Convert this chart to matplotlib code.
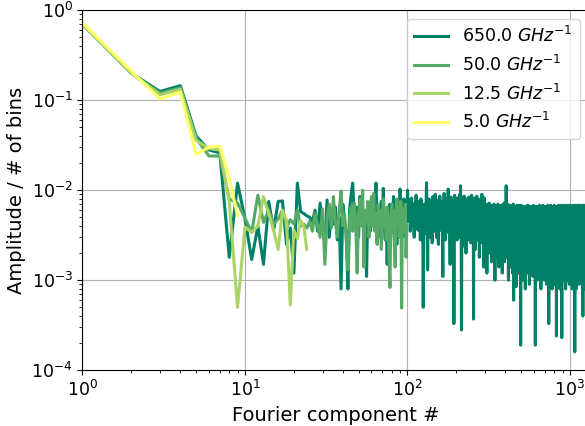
import numpy as np
import matplotlib
matplotlib.use("Agg")
import matplotlib.pyplot as plt

# bin widths shown in the legend (GHz^-1)
widths = [650.0, 50.0, 12.5, 5.0]

# amplitude per component for the shortest windows
amp_5 = [0.72, 0.21, 0.103, 0.123, 0.025, 0.030, 0.031, 0.0135, 0.0052]

amp_12 = [0.70, 0.20, 0.115, 0.132, 0.036, 0.029, 0.028, 0.0075, 0.0005, 0.0039,
          0.0034, 0.0040, 0.0085, 0.0055, 0.0036, 0.0022, 0.0060, 0.0046, 0.00053,
          0.0036, 0.0029, 0.0046, 0.0040, 0.0022]

# components 1-24 as real values, the rest in units of 1e-4
amp_50_head = [0.70, 0.20, 0.12, 0.138, 0.038, 0.024, 0.024, 0.0080, 0.0072, 0.0049,
               0.0034, 0.0088, 0.0044, 0.0060, 0.0042, 0.0048, 0.0060, 0.0038, 0.0047,
               0.0042, 0.0060, 0.0040, 0.0042, 0.0038]
amp_50_tail = [45, 35, 55, 40, 30, 62, 15, 50, 70, 38, 85, 45, 30, 60, 98, 40, 55, 28, 13,
               50, 65, 35, 72, 45, 12, 55, 80, 40, 100, 14, 60, 45, 75, 30, 50, 85, 40, 92,
               35, 55, 25, 70, 45, 60, 22, 50, 80, 38, 55, 28, 65, 42, 18, 8.3, 50, 70, 35,
               60, 25, 14, 55, 80, 40, 65, 30, 50, 75, 4.9, 45, 62, 35, 55, 70, 18, 40]

amp_650_head = [0.70, 0.20, 0.125, 0.145, 0.040, 0.028, 0.026, 0.0018, 0.012, 0.0048,
                0.0017, 0.0040, 0.0015, 0.0075, 0.0036, 0.0075, 0.0076, 0.0025, 0.0038,
                0.0012, 0.012, 0.0058, 0.0055, 0.0052, 0.0050]
amp_650_tail = [
    45, 60, 35, 72, 40, 25, 78, 30, 55, 42, 65, 28, 50, 8, 70, 45, 33, 8, 60, 90, 120, 55,
    40, 65, 30, 85, 45, 62, 28, 50, 11, 70, 48, 35, 80, 55, 40, 72, 120, 45, 30, 60, 38,
    75, 50, 105, 40, 28, 55, 15, 62, 45, 70, 33, 58, 42, 85, 30, 50, 65, 25, 72, 48, 38,
    103, 55, 42, 68, 30, 80, 52, 35, 60, 45,
    100, 62, 45, 78, 35, 58, 82, 40, 66, 50, 30, 72, 55, 88, 42, 60, 36, 75, 48, 64, 28, 80, 52, 44, 70,
    5, 58, 40, 70, 33, 62, 121, 48, 13, 66, 38, 80, 52, 30, 72, 45, 60, 26, 85, 50, 68, 35, 55, 90, 42,
    64, 30, 78, 47, 58, 25, 70, 40, 86, 52, 36, 62, 45, 74, 33, 11, 68, 50, 92, 38, 56, 28, 80, 46, 60,
    34, 72, 48, 103, 55, 40, 66, 30, 15, 58, 84, 44, 62, 26, 76, 50, 36, 70, 3.3, 54, 88, 42, 60, 32, 74,
    46, 64, 28, 82, 52, 38, 70, 44, 58, 30, 90, 48, 112, 66, 40, 2.8, 60, 34, 78, 50, 24, 68, 42, 86, 55,
    36, 72, 48, 62, 20, 80, 45, 58, 32, 75, 52, 40, 66, 28, 84, 46, 60, 35, 70, 50, 26, 64, 42, 88, 38,
    56, 30, 74, 48, 62, 3.7, 68, 44, 82, 36, 58, 22, 76, 50, 40, 66, 32, 86, 54, 45, 70, 28, 60, 38, 78,
    48, 64, 18, 72, 42, 56, 34, 80, 50, 26, 68, 44, 90, 38, 60, 30, 74, 52, 40, 66, 14, 58, 82, 46, 35,
    60, 42, 60, 24, 66, 50, 36, 64, 12, 56, 70, 40, 68, 30, 64, 46, 20, 62, 52, 72, 34, 58, 44, 62, 26,
    60, 38, 68, 48, 16, 66, 54, 32, 66, 44, 62, 22, 60, 50, 36, 70, 42, 58, 28, 68, 10, 54, 64, 40, 62,
    30, 62, 46, 56, 18, 66, 40, 64, 34, 52, 70, 26, 60, 44, 60, 14, 58, 38, 66, 48, 24, 66, 42, 68, 36,
    54, 20, 68, 46, 60, 30, 64, 50, 12, 64, 40, 68, 34, 56, 26, 60, 44, 72, 38, 58, 16, 66, 48, 30, 62,
    42, 60, 24, 66, 50, 112, 36, 62, 18, 54, 60, 32, 46, 70, 28, 58, 40, 66, 10, 52, 64, 36, 56, 22, 68,
    44, 68, 30, 60, 14, 62, 48, 38, 64, 20, 56, 66, 34, 50, 26, 68, 42, 58, 12, 64, 46, 30, 62, 70, 36,
    6, 54, 60, 28, 48, 64, 18, 58, 40, 66, 32, 52, 66, 24, 60, 44, 8.5, 62, 38, 56, 30, 68, 46, 16, 62,
    50, 34, 66, 42, 58, 22, 66, 48, 12, 60, 36, 54, 28, 68, 44, 60, 18, 64, 40, 52, 26, 62, 1.9, 56, 38,
    68, 30, 58, 46, 20, 64, 40, 62, 14, 52, 66, 34, 56, 24, 66, 44, 10, 60, 38, 62, 28, 50, 64, 18, 46,
    60, 36, 54, 26, 62, 42, 8, 58, 66, 32, 48, 66, 20, 56, 40, 64, 30, 52, 12, 64, 44, 28, 60, 68, 38,
    50, 22, 68, 46, 34, 58, 16, 62, 40, 54, 26, 64, 48, 9, 60, 36, 66, 30, 52, 44, 18, 66, 40, 56, 24,
    62, 46, 32, 60, 14, 56, 42, 66, 28, 50, 64, 20, 58, 38, 62, 34, 48, 11, 60, 44, 26, 68, 52, 36, 64,
    40, 58, 22, 66, 46, 30, 62, 12, 54, 60, 36, 50, 1.9, 64, 42, 28, 66, 48, 18, 56, 38, 60, 24, 62, 44,
    32, 58, 48, 10, 66, 40, 54, 26, 64, 46, 36, 62, 16, 52, 60, 30, 56, 42, 20, 64, 48, 34, 66, 38, 58,
    24, 68, 44, 54, 14, 60, 36, 62, 50, 28, 62, 42, 8, 56, 66, 34, 48, 22, 66, 40, 58, 30, 52, 18, 60,
    46, 36, 62, 26, 54, 44, 12, 68, 38, 58, 30, 64, 48, 20, 60, 42, 56, 32, 66, 10, 50, 62, 36, 54, 28,
    64, 44, 18, 58, 40, 60, 30, 52, 14, 62, 46, 66, 34, 56, 24, 66, 42, 50, 9, 60, 38, 62, 28, 54, 46,
    20, 64, 36, 58, 48, 12, 68, 40, 54, 30, 64, 44, 16, 60, 38, 3.3, 56, 60, 26, 50, 42, 62, 18, 66, 34,
    52, 28, 60, 46, 10, 62, 38, 56, 24, 64, 44, 32, 68, 50, 14, 58, 40, 66, 30, 54, 20, 62, 48, 36, 60,
    42, 8, 58, 34, 66, 46, 22, 60, 38, 64, 28, 52, 44, 12, 64, 36, 56, 18, 60, 48, 30, 62, 40, 54, 26,
    68, 44, 14, 58, 36, 62, 50, 24, 62, 40, 9, 56, 66, 32, 48, 20, 66, 42, 54, 28, 60, 38, 16, 60, 46,
    2.4, 58, 34, 64, 48, 22, 62, 40, 54, 12, 66, 30, 50, 44, 18, 62, 36, 64, 26, 56, 42, 10, 68, 48, 32,
    60, 24, 52, 60, 38, 14, 64, 46, 30, 58, 42, 66, 20, 54, 36, 66, 8, 50, 62, 28, 44, 62, 34, 56, 16,
    68, 40, 52, 26, 60, 46, 12, 64, 34, 56, 22, 64, 48, 38, 60, 2.3, 54, 30, 62, 44, 18, 66, 42, 58, 28,
    50, 62, 36, 14, 60, 44, 56, 24, 68, 40, 32, 64, 10, 52, 46, 66, 30, 58, 20, 62, 38, 54, 16, 60, 42,
    28, 60, 48, 66, 12, 56, 36, 62, 44, 22, 58, 40, 64, 30, 52, 8, 68, 46, 34, 62, 18, 56, 42, 64, 26,
    54, 38, 64, 14, 50, 60, 32, 46, 24, 60, 42, 58, 10, 66, 36, 52, 28, 62, 44, 20, 62, 40, 56, 30, 68,
    16, 48, 60, 36, 64, 26, 54, 42, 12, 64, 38, 58, 22, 60, 46, 32, 56, 9, 62, 44, 28, 66, 50, 18, 58,
    40, 62, 30, 52, 14, 62, 46, 36, 68, 24, 56, 42, 66, 20, 50, 34, 60, 11, 64, 44, 28, 58, 38, 60, 26,
    54, 16, 66, 42, 48, 30, 62, 8, 56, 38, 62, 24, 52, 44, 18, 64, 34, 58, 46, 12, 68, 40, 28, 60, 50,
    22, 60, 36, 54, 44, 14, 62, 40, 58, 26, 66, 48, 10, 52, 34, 64, 30, 56, 42, 20, 1.6, 60, 46, 38, 64,
    28, 54, 12, 68, 40, 58, 32, 46, 22, 62, 50, 36, 60, 16, 56, 42, 8, 64, 30, 52, 44, 24, 66, 38, 58,
    46, 20, 60, 34, 62, 40, 14, 56, 48, 28, 64, 42, 10, 58, 36, 68, 26, 50, 44, 18, 62, 38, 54, 30, 66,
    12, 52, 40, 60, 24, 60, 46, 34, 56, 16, 64, 42, 28, 58, 9, 50, 66, 36, 44, 22, 62, 48, 32, 56, 14,
    60, 40, 68, 26, 52, 44, 18, 64, 36, 54, 30, 62, 42, 12, 58, 46, 24, 62, 38, 50, 10, 66, 34, 56, 28,
    48, 64, 16, 58, 40, 60, 22, 52, 44, 32, 60, 12, 66, 38, 54, 26, 62, 46, 18, 56, 36, 68, 30, 50, 42,
    4, 58, 34, 64, 46, 20, 56, 40, 60, 28, 52, 14, 62, 44, 36, 60, 24, 54, 48, 10, 66, 38, 58, 30, 50,
    64, 22, 46, 56, 36, 12, 60, 42, 68, 28, 50, 44, 18, 62, 34, 54, 8, 58, 40, 66, 26, 48, 38, 60, 20,
    56, 42, 60, 30, 48, 14, 62, 36, 54, 24, 58, 46, 10, 64, 38, 52, 28, 60, 44, 16, 66, 34, 50, 40, 22,
    58, 46, 64, 30, 12, 54, 40, 68, 26, 50, 44, 18, 62, 36, 56, 9, 60, 42, 52, 28, 64, 38, 14, 56, 46,
]

amp_50 = np.concatenate([amp_50_head, np.array(amp_50_tail) * 1e-4])
amp_650 = np.concatenate([amp_650_head, np.array(amp_650_tail) * 1e-4])
series = [amp_650, amp_50, np.array(amp_12), np.array(amp_5)]

fig = plt.figure(figsize=(5.85, 4.26), dpi=100)
ax = fig.add_axes([0.141, 0.131, 0.865, 0.845])

colors = plt.cm.summer(np.linspace(0, 1, len(widths)))
for w, amp, c in zip(widths, series, colors):
    comp = np.arange(1, len(amp) + 1)
    ax.plot(comp, amp, color=c, linewidth=2.2, label=r'%.1f $GHz^{-1}$' % w)

ax.set_xscale('log')
ax.set_yscale('log')
ax.set_xlim(1, 1300)
ax.set_ylim(1e-4, 1)
ax.grid(True, which='major', color='#b0b0b0', linewidth=0.8)
ax.tick_params(labelsize=12.5)
ax.set_xlabel('Fourier component #', fontsize=14)
ax.set_ylabel('Amplitude / # of bins', fontsize=14)
ax.legend(loc='upper right', fontsize=12.5)

fig.savefig('out.png', dpi=100)
